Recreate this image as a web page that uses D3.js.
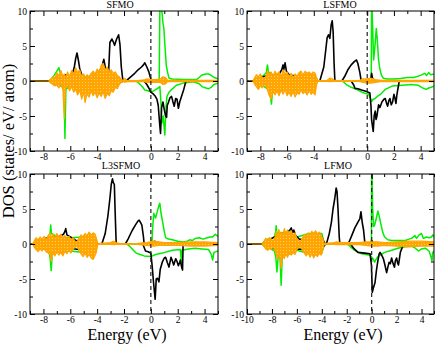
<!DOCTYPE html>
<html><head><meta charset="utf-8">
<script src="https://cdn.jsdelivr.net/npm/d3@7"></script>
<style>body{margin:0;background:#fff}svg{display:block}</style>
</head><body>
<svg id="c" width="436" height="344"></svg>
<script>
// ---------------- DATA ----------------
const panelNames = ["SFMO", "LSFMO", "L3SFMO", "LFMO"];
const xDomains = [[-9, 5], [-9, 5], [-9, 5], [-10, 5]];
const xMajorTicks = [[-8,-6,-4,-2,0,2,4],[-8,-6,-4,-2,0,2,4],[-8,-6,-4,-2,0,2,4],[-10,-8,-6,-4,-2,0,2,4]];
// the "-2" labels of the upper panels are hidden under the lower panel titles
const xTickLabels = [["-8","-6","-4","","0","2","4"],["-8","-6","-4","","0","2","4"],["-8","-6","-4","-2","0","2","4"],["-10","-8","-6","-4","-2","0","2","4"]];
const yMajorTicks = [-10, -5, 0, 5, 10];
const yMinorTicks = [-7.5, -2.5, 2.5, 7.5];
const xAxisTitle = "Energy (eV)";
const yAxisTitle = "DOS (states/ eV/ atom)";

// SFMO  [energy, dos]
const sfmoBlackUp = [[-9,0],[-7.5,0],[-7.2,0.3],[-6.9,0.8],[-6.6,0.5],[-6.3,0.9],[-6.0,0.7],[-5.8,1.3],[-5.7,2.0],[-5.6,3.2],[-5.5,4.0],[-5.4,3.0],[-5.3,1.8],[-5.2,1.2],[-5.1,0.6],[-4.8,0.5],[-4.5,0.6],[-4.2,0.8],[-3.9,1.2],[-3.7,1.8],[-3.6,2.4],[-3.5,3.1],[-3.4,2.0],[-3.3,1.0],[-3.15,1.1],[-3.05,5.5],[-2.9,6.0],[-2.8,5.6],[-2.7,5.1],[-2.55,6.0],[-2.4,6.6],[-2.3,5.2],[-2.2,2.0],[-2.1,0.3],[-2.0,0],[-1.8,0.1],[-1.5,0.6],[-1.2,1.1],[-0.95,1.6],[-0.7,2.0],[-0.55,2.3],[-0.45,2.6],[-0.3,2.0],[-0.15,1.3],[-0.05,0.6],[0.05,0],[5,0]];
const sfmoBlackDn = [[-9,0],[-7.5,0],[-7.0,-0.4],[-6.5,-0.6],[-6,-0.5],[-5,-0.8],[-4,-0.9],[-3,-0.7],[-2.2,-0.1],[-2.0,0],[-0.5,0],[-0.3,-0.5],[-0.15,-1.0],[0,-1.6],[0.15,-1.8],[0.3,-2.1],[0.45,-2.6],[0.55,-3.5],[0.65,-6.0],[0.72,-7.5],[0.8,-3.8],[0.9,-3.0],[1.0,-4.1],[1.1,-5.0],[1.17,-5.2],[1.22,-3.5],[1.3,-3.1],[1.42,-2.4],[1.54,-2.2],[1.65,-3.0],[1.74,-3.6],[1.85,-2.5],[1.95,-2.6],[2.05,-3.9],[2.15,-3.0],[2.28,-2.2],[2.45,-1.2],[2.6,-0.1],[2.7,0],[5,0]];
const sfmoGreenUp = [[-9,0],[-7.6,0],[-7.4,0.3],[-7.2,0.8],[-7.0,1.4],[-6.85,1.9],[-6.75,1.2],[-6.6,0.8],[-6.3,0.5],[-5.5,0.5],[-4.5,0.5],[-3,0.5],[-2.2,0.1],[-2.0,0],[0.55,0],[0.62,0.3],[0.68,12],[0.8,10.5],[0.9,8.3],[0.97,7.5],[1.05,5],[1.15,2.2],[1.25,1.2],[1.35,0.4],[1.6,0.3],[2.5,0.2],[3.4,0.2],[3.6,0.5],[3.8,0.85],[4.1,1.0],[4.3,1.0],[4.5,0.8],[4.7,0.5],[5,0.3]];
const sfmoGreenDn = [[-9,0],[-7.6,0],[-7.3,-0.4],[-7.0,-0.6],[-6.6,-0.8],[-6.45,-1.5],[-6.4,-8.2],[-6.33,-1.2],[-6.0,-0.6],[-5,-0.8],[-4,-0.8],[-3,-0.6],[-2.2,-0.1],[-2.0,0],[-1.1,0],[-0.9,-0.3],[-0.6,-0.9],[-0.45,-1.3],[-0.2,-1.4],[0.04,-1.6],[0.3,-1.3],[0.55,-1.0],[0.67,-0.8],[0.75,-3.0],[0.82,-6.0],[0.92,-5.0],[1.04,-7.7],[1.12,-4.0],[1.2,-2.2],[1.35,-1.6],[1.5,-1.3],[1.9,-0.6],[2.4,-0.3],[3.2,-0.1],[3.6,-0.4],[3.8,-0.8],[4.1,-1.0],[4.3,-1.1],[4.5,-0.9],[4.7,-0.5],[5,-0.3]];
// [energy, up, down]
const sfmoOrange = [[-9,0,0],[-7.6,0,0],[-7.45,0.3,-0.3],[-7.3,0.6,-0.5],[-7.15,0.4,-0.7],[-7.0,1.2,-0.6],[-6.85,0.7,-1.0],[-6.7,1.5,-0.5],[-6.55,0.6,-1.2],[-6.45,1.0,-5.4],[-6.35,0.5,-1.0],[-6.2,1.3,-0.7],[-6.05,0.6,-1.4],[-5.9,1.5,-0.8],[-5.75,1.0,-1.6],[-5.6,1.9,-1.2],[-5.45,1.2,-2.0],[-5.3,1.6,-1.3],[-5.15,0.7,-2.6],[-5.0,1.0,-1.5],[-4.9,0.5,-3.1],[-4.75,0.9,-1.8],[-4.6,0.6,-2.3],[-4.45,1.1,-1.4],[-4.3,1.4,-2.1],[-4.15,1.0,-1.6],[-4.0,1.7,-2.4],[-3.85,1.3,-1.7],[-3.7,2.2,-2.2],[-3.55,2.5,-1.5],[-3.4,1.6,-2.5],[-3.25,2.0,-1.8],[-3.1,1.3,-2.1],[-2.95,1.6,-1.4],[-2.8,1.1,-1.6],[-2.65,1.3,-0.9],[-2.5,0.8,-1.1],[-2.35,0.6,-0.5],[-2.2,0.2,-0.2],[-2.05,0.05,-0.05],[-1.95,0.4,-0.2],[-1.8,0.1,-0.1],[-1.0,0.05,-0.05],[-0.5,0.15,-0.1],[-0.3,0.3,-0.2],[0,0.2,-0.2],[0.4,0.2,-0.2],[0.7,0.3,-0.2],[0.9,0.6,-0.5],[1.1,0.5,-0.4],[1.25,0.1,-0.1],[2,0.1,-0.1],[5,0.1,-0.1]];

// LSFMO
const lsfmoBlackUp = [[-9,0],[-8.5,0],[-8.2,0.4],[-7.8,0.6],[-7.4,0.8],[-7.0,0.7],[-6.6,1.0],[-6.4,1.6],[-6.3,2.3],[-6.25,1.6],[-6.15,2.6],[-6.05,1.4],[-5.8,0.8],[-5.0,0.7],[-4.2,0.8],[-3.8,0.3],[-3.7,0],[-3.55,0],[-3.4,1.0],[-3.25,2.0],[-3.1,4.5],[-3.0,6.2],[-2.9,6.6],[-2.8,6.1],[-2.7,8.0],[-2.62,8.6],[-2.55,7.0],[-2.48,2.5],[-2.42,0],[-1.9,0],[-1.7,0.6],[-1.45,1.6],[-1.2,2.3],[-0.95,2.8],[-0.8,3.0],[-0.7,2.5],[-0.55,1.2],[-0.45,0],[0.25,0],[0.33,1.1],[0.4,0.4],[0.5,0],[5,0]];
const lsfmoBlackDn = [[-9,0],[-8.5,0],[-8,-0.4],[-7,-0.6],[-6,-0.8],[-5,-0.7],[-4,-0.6],[-3.7,0],[-1.2,0],[-1.0,-0.6],[-0.92,-1.05],[-0.7,-1.1],[-0.42,-1.3],[-0.05,-1.5],[0.2,-1.7],[0.28,-3.5],[0.33,-5.6],[0.45,-7.2],[0.52,-5.0],[0.6,-4.3],[0.66,-5.5],[0.72,-5.1],[0.85,-3.4],[0.95,-3.8],[1.1,-3.0],[1.25,-2.6],[1.35,-2.5],[1.45,-3.2],[1.53,-3.6],[1.62,-2.8],[1.7,-2.5],[1.8,-3.4],[1.9,-3.0],[2.0,-1.9],[2.08,-2.5],[2.15,-3.2],[2.22,-2.0],[2.28,-1.3],[2.4,0],[5,0]];
const lsfmoGreenUp = [[-9,0],[-8.5,0],[-8.2,0.5],[-7.8,0.7],[-7.55,1.2],[-7.47,2.3],[-7.4,1.3],[-7.0,0.8],[-6,0.8],[-5,0.7],[-4,0.8],[-3.7,0],[0.3,0],[0.33,12],[0.4,8],[0.48,3.0],[0.58,5],[0.68,7.5],[0.75,6],[0.85,3],[0.93,1.9],[1.05,0.9],[1.2,0.4],[1.5,0.3],[2.0,0.3],[2.5,0.35],[3.0,0.5],[3.5,0.5],[4.0,0.8],[4.3,1.1],[4.45,0.8],[4.6,1.2],[4.75,0.9],[5,1.0]];
const lsfmoGreenDn = [[-9,0],[-8.5,0],[-8.2,-0.5],[-7.8,-0.7],[-7.4,-1.2],[-7.25,-2.0],[-7.17,-3.3],[-7.1,-1.6],[-6.5,-1.0],[-5,-1.0],[-4,-0.9],[-3.7,0],[-1.85,0],[-1.5,-0.6],[-1.2,-0.9],[-0.9,-1.1],[-0.7,-1.3],[-0.4,-1.6],[-0.1,-1.8],[0.1,-1.9],[0.33,-2.9],[0.45,-2.6],[0.6,-2.5],[0.75,-2.2],[1.0,-1.9],[1.35,-1.2],[1.9,-0.7],[2.6,-0.6],[3.3,-0.5],[3.8,-0.6],[4.1,-0.95],[4.4,-1.2],[4.6,-1.0],[4.8,-0.9],[5,-0.7]];
const lsfmoOrange = [[-9,0,0],[-8.55,0,0],[-8.45,0.4,-0.4],[-8.3,0.9,-0.8],[-8.15,0.6,-1.2],[-8.0,1.0,-0.7],[-7.85,0.5,-1.0],[-7.7,0.3,-0.4],[-7.55,0.8,-0.9],[-7.45,1.5,-1.4],[-7.35,0.9,-2.0],[-7.2,1.3,-2.6],[-7.05,0.7,-1.5],[-6.9,1.4,-2.0],[-6.75,0.9,-1.4],[-6.6,1.3,-2.1],[-6.45,0.6,-1.3],[-6.3,1.6,-1.9],[-6.15,1.0,-1.2],[-6.0,1.3,-2.1],[-5.85,0.6,-1.6],[-5.7,1.1,-2.2],[-5.55,0.5,-1.5],[-5.4,1.0,-2.3],[-5.25,0.7,-1.7],[-5.1,1.2,-1.9],[-4.95,1.4,-1.3],[-4.8,0.9,-1.8],[-4.65,1.4,-1.5],[-4.5,1.1,-2.0],[-4.35,1.3,-1.4],[-4.2,0.9,-1.9],[-4.05,1.3,-1.6],[-3.9,1.1,-2.0],[-3.8,0.5,-0.6],[-3.7,0.05,-0.05],[-3.0,0.1,-0.05],[-2.8,0.4,-0.1],[-2.6,0.3,-0.05],[-2.4,0.05,-0.05],[-0.6,0.05,-0.05],[-0.3,0.3,-0.2],[0,0.3,-0.3],[0.3,0.4,-0.3],[0.6,0.2,-0.2],[1.0,0.1,-0.1],[5,0.1,-0.1]];

// L3SFMO
const l3sfmoBlackUp = [[-9,0],[-8.7,0],[-8.4,0.5],[-8,0.7],[-7.6,0.9],[-7.2,1.0],[-6.8,1.1],[-6.5,1.4],[-6.4,1.8],[-6.34,2.2],[-6.25,1.3],[-5.9,0.9],[-5.5,0.4],[-5.0,1.1],[-4.5,1.2],[-4.1,0.5],[-4.0,0],[-3.65,0],[-3.4,1.5],[-3.2,4.0],[-3.05,6.5],[-2.95,8.5],[-2.86,9.3],[-2.8,8.8],[-2.72,8.5],[-2.65,4.0],[-2.58,0],[-1.9,0],[-1.7,0.7],[-1.5,1.5],[-1.37,2.0],[-1.12,2.8],[-0.95,3.3],[-0.87,3.4],[-0.75,3.0],[-0.67,2.7],[-0.55,1.0],[-0.5,0],[0.1,0],[0.15,0.3],[0.3,0.4],[0.45,0],[5,0]];
const l3sfmoBlackDn = [[-9,0],[-8.7,0],[-8,-0.5],[-7,-0.6],[-6,-0.6],[-5,-0.9],[-4.1,-0.5],[-4.0,0],[-0.6,0],[-0.4,-1.0],[-0.2,-1.1],[0,-1.3],[0.1,-3.2],[0.2,-5.5],[0.32,-7.9],[0.4,-5.0],[0.5,-4.9],[0.6,-5.4],[0.7,-3.6],[0.85,-2.6],[1.0,-2.0],[1.1,-1.9],[1.22,-2.6],[1.35,-3.3],[1.5,-1.9],[1.6,-2.4],[1.7,-3.0],[1.85,-2.1],[1.95,-2.5],[2.05,-3.1],[2.15,-2.6],[2.2,-2.3],[2.28,-3.2],[2.36,-3.7],[2.4,0],[5,0]];
const l3sfmoGreenUp = [[-9,0],[-8.8,0],[-8.4,0.5],[-8,0.7],[-7.6,1.0],[-7.5,1.6],[-7.46,2.7],[-7.4,1.5],[-7.0,1.0],[-6,0.9],[-5,1.0],[-4.1,0.5],[-4.0,0],[0.08,0],[0.12,2.0],[0.22,4.4],[0.35,3.7],[0.5,4.8],[0.62,5.6],[0.67,5.8],[0.75,4.5],[0.87,3.2],[1.0,1.8],[1.1,0.9],[1.3,0.7],[1.6,0.6],[2.0,0.4],[2.4,0.3],[2.7,0.4],[2.9,0.6],[3.1,0.5],[3.3,0.8],[3.6,0.9],[3.9,0.7],[4.2,0.9],[4.4,1.0],[4.6,1.0],[4.8,1.4],[4.9,1.2],[5,1.1]];
const l3sfmoGreenDn = [[-9,0],[-8.8,0],[-8.4,-0.5],[-8,-0.7],[-7.6,-1.0],[-7.5,-2.0],[-7.42,-3.8],[-7.35,-1.5],[-7,-1.2],[-6,-1.0],[-5,-1.2],[-4.1,-0.6],[-4.0,0],[-1.8,0],[-1.6,-0.3],[-1.35,-0.8],[-1.1,-1.3],[-0.8,-1.5],[-0.5,-1.7],[0,-1.8],[0.35,-1.5],[0.85,-1.3],[1.6,-0.9],[2.2,-0.8],[2.27,-2.6],[2.32,-0.9],[2.8,-0.7],[3.3,-0.6],[3.8,-0.7],[4.3,-0.8],[4.5,-1.5],[4.6,-2.3],[4.7,-1.2],[5,-1.0]];
const l3sfmoOrange = [[-9,0,0],[-8.8,0,0],[-8.7,0.4,-0.4],[-8.55,0.9,-0.8],[-8.4,0.6,-1.1],[-8.25,1.0,-0.7],[-8.1,0.7,-1.0],[-7.95,1.1,-0.6],[-7.8,0.6,-1.1],[-7.65,1.2,-1.3],[-7.5,1.6,-1.5],[-7.42,0.8,-2.5],[-7.3,1.4,-1.2],[-7.15,0.9,-1.7],[-7.0,1.5,-1.1],[-6.85,1.0,-1.6],[-6.7,1.4,-1.2],[-6.55,0.8,-1.7],[-6.4,1.2,-1.0],[-6.25,0.7,-1.4],[-6.1,1.1,-0.9],[-5.95,0.6,-1.3],[-5.8,0.9,-0.7],[-5.65,0.4,-0.5],[-5.5,0.3,-0.3],[-5.35,0.8,-0.9],[-5.2,1.3,-1.4],[-5.05,1.0,-1.8],[-4.9,1.5,-1.3],[-4.75,1.2,-1.9],[-4.6,1.7,-1.5],[-4.45,1.3,-2.0],[-4.3,1.6,-2.2],[-4.15,1.4,-1.6],[-4.05,0.8,-1.1],[-3.95,0.05,-0.05],[-3.0,0.2,-0.05],[-2.8,0.4,-0.1],[-2.6,0.2,-0.05],[-2.3,0.05,-0.05],[-1.0,0.1,-0.05],[-0.3,0.2,-0.2],[0.2,0.4,-0.3],[0.6,0.3,-0.2],[1,0.2,-0.2],[2,0.2,-0.2],[3,0.3,-0.3],[4,0.3,-0.3],[5,0.2,-0.2]];

// LFMO
const lfmoBlackUp = [[-10,0],[-8.7,0],[-8.4,0.5],[-8,0.8],[-7.6,1.2],[-7.2,1.3],[-6.9,1.5],[-6.7,1.8],[-6.55,2.0],[-6.45,2.3],[-6.35,1.6],[-6.25,2.0],[-6.1,1.2],[-5.8,0.7],[-5.5,0.6],[-5,1.2],[-4.5,1.4],[-4,1.0],[-3.8,0.2],[-3.7,0],[-3.63,0],[-3.4,1.5],[-3.23,3.1],[-3.1,5.0],[-2.96,6.5],[-2.85,8.0],[-2.78,7.5],[-2.7,5.0],[-2.6,1.0],[-2.55,0],[-1.88,0],[-1.6,1.2],[-1.35,2.3],[-1.08,3.2],[-0.95,3.6],[-0.86,4.6],[-0.75,3.0],[-0.65,2.0],[-0.54,0],[-0.1,0],[0.0,0.5],[0.1,0.2],[0.2,0],[5,0]];
const lfmoBlackDn = [[-10,0],[-8.7,0],[-8,-0.6],[-7,-0.8],[-6,-0.7],[-5,-0.9],[-4,-0.7],[-3.7,0],[-1.7,0],[-1.4,-0.7],[-1.1,-1.2],[-0.55,-1.3],[-0.13,-1.4],[-0.02,-3.0],[0.05,-6.9],[0.15,-6.2],[0.27,-5.5],[0.38,-3.8],[0.48,-2.6],[0.6,-1.4],[0.67,-1.2],[0.8,-1.6],[0.94,-2.1],[1.05,-2.9],[1.2,-4.1],[1.3,-3.3],[1.4,-2.6],[1.5,-2.8],[1.6,-2.0],[1.72,-2.8],[1.83,-3.3],[1.9,-2.4],[2.0,-2.0],[2.08,-2.7],[2.15,-3.0],[2.22,-2.2],[2.3,-1.2],[2.45,-0.5],[2.55,0],[5,0]];
const lfmoGreenUp = [[-10,0],[-8.8,0],[-8.5,0.6],[-8.1,0.8],[-7.8,1.0],[-7.7,1.8],[-7.66,2.6],[-7.6,1.5],[-7.3,1.6],[-7,1.6],[-6.5,1.5],[-6,1.0],[-5,1.5],[-4,1.5],[-3.8,0],[-0.02,0],[0.0,12],[0.08,5],[0.16,2.5],[0.24,2.7],[0.35,3.5],[0.5,4.7],[0.6,4.0],[0.77,2.6],[0.9,1.6],[1.04,1.0],[1.3,0.6],[1.6,0.5],[2.2,0.5],[2.7,0.5],[3.0,0.7],[3.2,0.8],[3.47,1.2],[3.6,0.8],[3.8,1.3],[4.0,1.5],[4.15,0.8],[4.4,1.0],[4.6,0.9],[4.8,1.0],[4.9,1.3],[5,1.0]];
const lfmoGreenDn = [[-10,0],[-8.8,0],[-8.5,-0.5],[-8.1,-0.7],[-7.8,-1.0],[-7.68,-2.0],[-7.6,-4.0],[-7.5,-1.8],[-7.35,-2.0],[-7.26,-5.9],[-7.18,-2.0],[-7,-1.6],[-6.5,-1.4],[-6,-0.9],[-5,-1.4],[-4,-1.3],[-3.8,0],[-1.95,0],[-1.7,-0.4],[-1.35,-0.9],[-0.8,-1.4],[-0.13,-1.6],[0.1,-2.1],[0.24,-2.6],[0.35,-2.2],[0.5,-1.8],[0.75,-1.5],[1.04,-1.2],[1.6,-0.9],[2.1,-0.6],[2.7,-0.4],[3.2,-0.3],[3.5,-0.6],[3.76,-1.0],[4.0,-0.7],[4.3,-0.6],[4.6,-1.0],[4.75,-1.8],[4.84,-2.4],[4.9,-1.2],[5,-1.0]];
const lfmoOrange = [[-10,0,0],[-8.8,0,0],[-8.65,0.3,-0.3],[-8.5,0.8,-0.7],[-8.35,0.6,-0.9],[-8.2,0.9,-0.6],[-8.05,0.7,-0.8],[-7.9,0.4,-0.4],[-7.75,1.0,-1.0],[-7.65,1.8,-1.5],[-7.55,1.0,-2.2],[-7.45,2.1,-1.4],[-7.35,1.4,-2.0],[-7.26,1.7,-3.5],[-7.15,1.2,-1.6],[-7.0,2.2,-2.1],[-6.9,1.5,-1.4],[-6.75,2.0,-1.9],[-6.6,1.4,-1.3],[-6.45,1.9,-1.6],[-6.3,1.2,-1.2],[-6.15,1.6,-1.5],[-6.0,0.8,-0.8],[-5.85,0.5,-0.5],[-5.7,0.4,-0.4],[-5.55,0.9,-0.9],[-5.4,1.4,-1.3],[-5.25,1.1,-1.7],[-5.1,1.6,-1.2],[-4.95,1.3,-1.9],[-4.8,1.8,-1.4],[-4.65,1.5,-2.0],[-4.5,1.9,-1.5],[-4.35,1.4,-1.8],[-4.2,1.7,-1.3],[-4.05,1.2,-1.6],[-3.9,0.7,-0.8],[-3.8,0.05,-0.05],[-3.0,0.2,-0.05],[-2.8,0.3,-0.1],[-2.5,0.2,-0.05],[-1.0,0.2,-0.1],[-0.5,0.3,-0.2],[0,0.3,-0.3],[0.5,0.3,-0.3],[1,0.2,-0.2],[2,0.3,-0.3],[3,0.4,-0.4],[4,0.4,-0.3],[5,0.3,-0.3]];

const panelSeries = [
  {blackUp: sfmoBlackUp, blackDn: sfmoBlackDn, greenUp: sfmoGreenUp, greenDn: sfmoGreenDn, orange: sfmoOrange},
  {blackUp: lsfmoBlackUp, blackDn: lsfmoBlackDn, greenUp: lsfmoGreenUp, greenDn: lsfmoGreenDn, orange: lsfmoOrange},
  {blackUp: l3sfmoBlackUp, blackDn: l3sfmoBlackDn, greenUp: l3sfmoGreenUp, greenDn: l3sfmoGreenDn, orange: l3sfmoOrange},
  {blackUp: lfmoBlackUp, blackDn: lfmoBlackDn, greenUp: lfmoGreenUp, greenDn: lfmoGreenDn, orange: lfmoOrange}
];

// ---------------- LAYOUT ----------------
const boxes = [
  {l: 30, r: 218, t: 11, b: 151, tx: 120, ty: 8},
  {l: 247, r: 434, t: 11, b: 151, tx: 340, ty: 8},
  {l: 30, r: 218, t: 174, b: 314, tx: 121, ty: 169},
  {l: 247, r: 434, t: 174, b: 314, tx: 338, ty: 169}
];
const FONT = "'Liberation Serif','Times New Roman',serif";
const svg = d3.select("#c");

// light hatch texture for the orange fill
const pat = svg.append("defs").append("pattern").attr("id", "orangeHatch")
  .attr("patternUnits", "userSpaceOnUse").attr("width", 3).attr("height", 3);
pat.append("rect").attr("width", 3).attr("height", 3).attr("fill", "#ffa500");
pat.append("rect").attr("x", 1).attr("y", 1).attr("width", 1).attr("height", 1).attr("fill", "#ffcc70");

panelNames.forEach((name, i) => {
  const b = boxes[i];
  const s = panelSeries[i];
  const x = d3.scaleLinear().domain(xDomains[i]).range([b.l, b.r]);
  const y = d3.scaleLinear().domain([-10, 10]).range([b.b, b.t]);
  const g = svg.append("g");
  const cid = "clip" + i;
  svg.append("clipPath").attr("id", cid).append("rect")
    .attr("x", b.l).attr("y", b.t).attr("width", b.r - b.l).attr("height", b.b - b.t);
  const plot = g.append("g").attr("clip-path", `url(#${cid})`);
  const line = d3.line().x(d => x(d[0])).y(d => y(d[1]));
  const area = d3.area().x(d => x(d[0])).y0(d => y(d[2])).y1(d => y(d[1]));

  [s.greenUp, s.greenDn].forEach(d => plot.append("path").attr("d", line(d))
    .attr("fill", "none").attr("stroke", "#00ee00").attr("stroke-width", 1.5).attr("stroke-linejoin", "round"));
  [s.blackUp, s.blackDn].forEach(d => plot.append("path").attr("d", line(d))
    .attr("fill", "none").attr("stroke", "#000").attr("stroke-width", 1.6).attr("stroke-linejoin", "round"));
  plot.append("path").attr("d", area(s.orange))
    .attr("fill", "url(#orangeHatch)").attr("stroke", "#ffa500").attr("stroke-width", 1.2).attr("stroke-linejoin", "round");
  plot.append("line").attr("x1", x(0)).attr("x2", x(0)).attr("y1", b.t).attr("y2", b.b)
    .attr("stroke", "#222").attr("stroke-width", 1.2).attr("stroke-dasharray", "4,3");

  // axes
  const xMinor = d3.range(Math.ceil(xDomains[i][0]), xDomains[i][1] + 1).filter(v => v % 2 !== 0);
  const labels = xTickLabels[i];
  const ax = (axis, tr) => {
    const a = g.append("g").attr("transform", tr).call(axis);
    a.select(".domain").remove();
    a.selectAll("text").attr("font-family", FONT).attr("font-size", 9.5).attr("fill", "#000");
    a.selectAll("line").attr("stroke", "#000");
    return a;
  };
  ax(d3.axisBottom(x).tickValues(xMajorTicks[i]).tickSize(-5).tickPadding(2)
      .tickFormat((d, k) => labels[k]), `translate(0,${b.b})`);
  ax(d3.axisBottom(x).tickValues(xMinor).tickSize(-3).tickFormat(""), `translate(0,${b.b})`);
  ax(d3.axisTop(x).tickValues(xMajorTicks[i]).tickSize(-5).tickFormat(""), `translate(0,${b.t})`);
  ax(d3.axisTop(x).tickValues(xMinor).tickSize(-3).tickFormat(""), `translate(0,${b.t})`);
  ax(d3.axisLeft(y).tickValues(yMajorTicks).tickSize(-5).tickPadding(3).tickFormat(d => String(d)), `translate(${b.l},0)`);
  ax(d3.axisLeft(y).tickValues(yMinorTicks).tickSize(-3).tickFormat(""), `translate(${b.l},0)`);
  ax(d3.axisRight(y).tickValues(yMajorTicks).tickSize(-5).tickFormat(""), `translate(${b.r},0)`);
  ax(d3.axisRight(y).tickValues(yMinorTicks).tickSize(-3).tickFormat(""), `translate(${b.r},0)`);

  g.append("rect").attr("x", b.l).attr("y", b.t).attr("width", b.r - b.l).attr("height", b.b - b.t)
    .attr("fill", "none").attr("stroke", "#000").attr("stroke-width", 1);
});

// panel titles
panelNames.forEach((name, i) => {
  const b = boxes[i];
  svg.append("text").attr("x", b.tx).attr("y", b.ty).attr("text-anchor", "middle")
    .attr("font-family", FONT).attr("font-size", 10).text(name);
});

svg.append("text").attr("x", 127).attr("y", 339.5).attr("text-anchor", "middle")
  .attr("font-family", FONT).attr("font-size", 16).text(xAxisTitle);
svg.append("text").attr("x", 343).attr("y", 339.5).attr("text-anchor", "middle")
  .attr("font-family", FONT).attr("font-size", 16).text(xAxisTitle);
svg.append("text").attr("transform", "translate(14,141) rotate(-90)").attr("text-anchor", "middle")
  .attr("font-family", FONT).attr("font-size", 16.5).text(yAxisTitle);
</script>
</body></html>
